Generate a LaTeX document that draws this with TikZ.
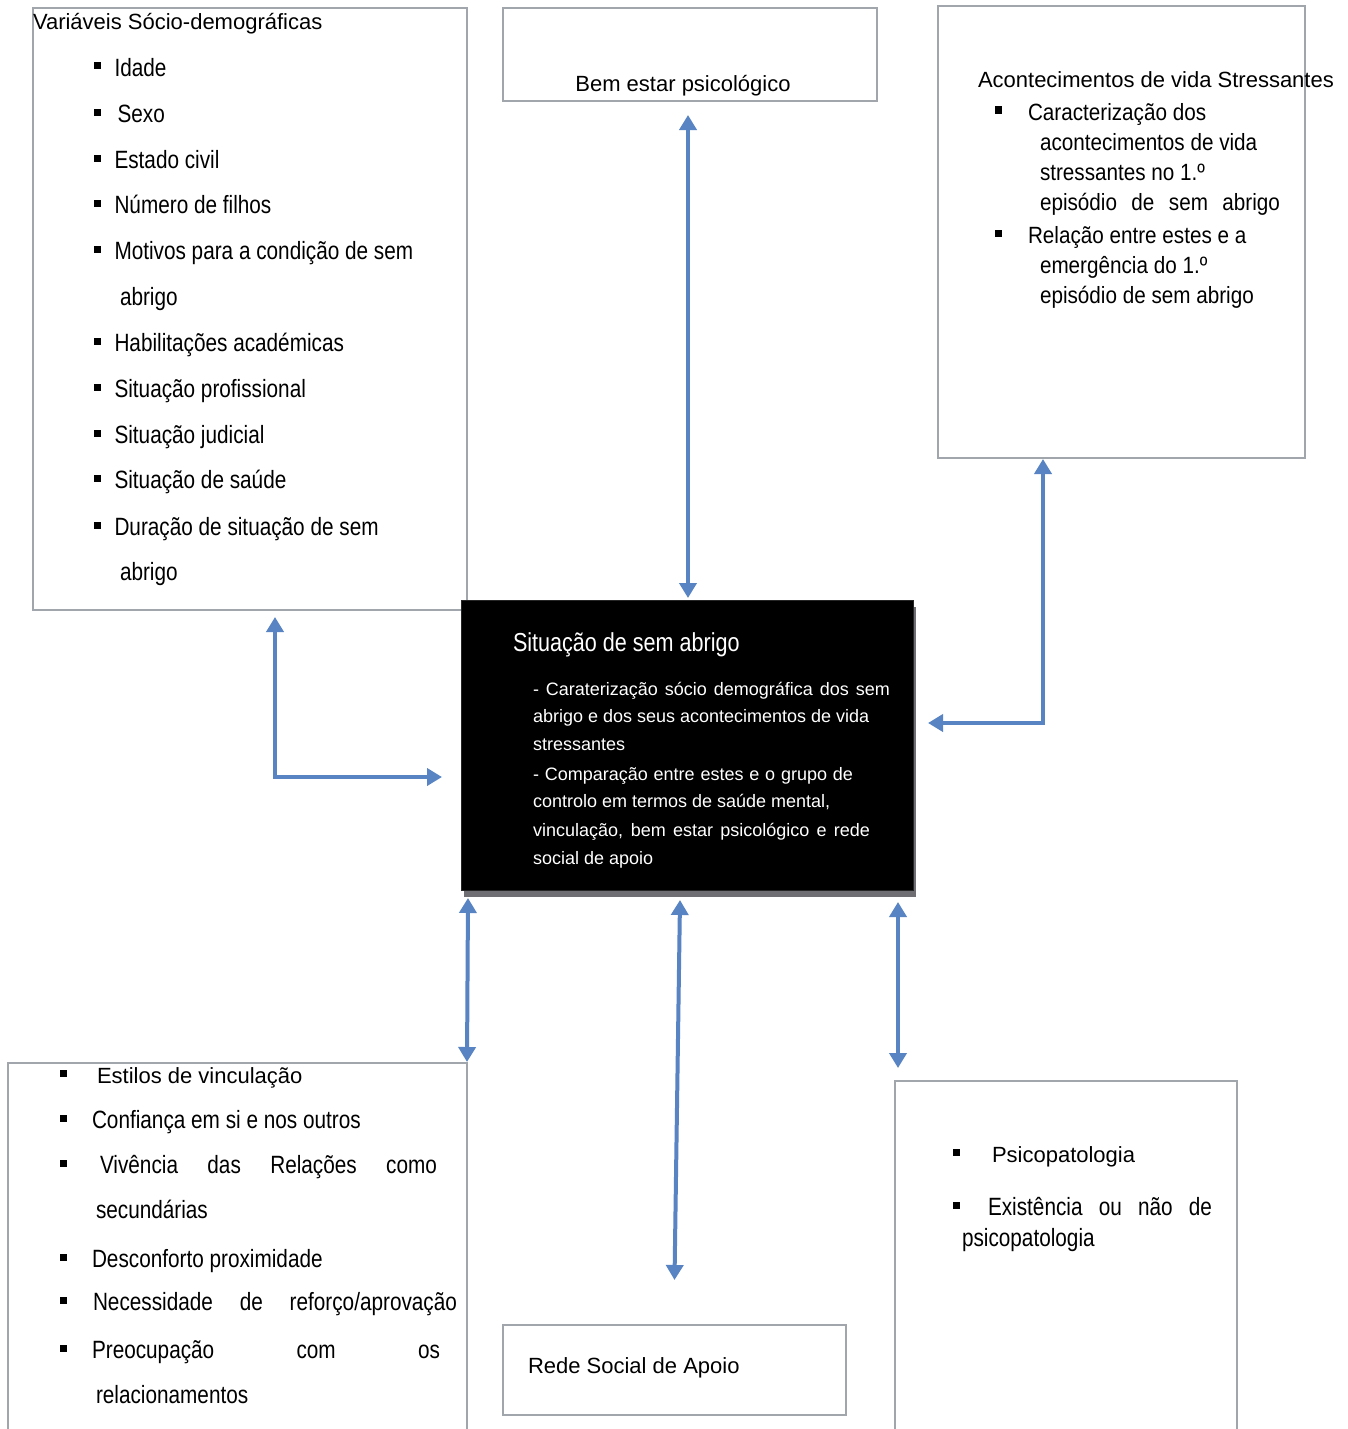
\documentclass[tikz,border=0pt]{standalone}
\usepackage{fontspec}
\setmainfont{Liberation Sans}
\newfontfamily\nar[FakeStretch=0.83]{Liberation Sans}
\newfontfamily\med[FakeStretch=0.88]{Liberation Sans}
\usetikzlibrary{arrows.meta,calc,shadows}
\definecolor{linkblue}{RGB}{88,132,196}
\definecolor{framegray}{RGB}{160,166,172}
\definecolor{shadegray}{RGB}{110,110,115}
% small square bullet, centred about 10pt above the baseline
\newcommand\sq{\rule[6.5pt]{7pt}{7pt}}
\newcommand\fnorm{\fontsize{22pt}{26pt}\selectfont}
\newcommand\fnar{\nar\fontsize{25pt}{29pt}\selectfont}
\newcommand\fmed{\med\fontsize{23.5pt}{27pt}\selectfont}
\newcommand\fsmall{\fontsize{18pt}{22pt}\selectfont}

\begin{document}
\begin{tikzpicture}[x=1pt,y=-1pt,
  box/.style={draw=framegray, line width=2.5pt, fill=white, inner sep=0pt,
              outer sep=0pt, anchor=north west},
  darkbox/.style={fill=black, draw=black!85, line width=1pt, inner sep=0pt,
              outer sep=0pt, anchor=north west,
              drop shadow={shadow xshift=3pt, shadow yshift=-7pt,
                           fill=shadegray, opacity=1}},
  lbl/.style={inner sep=0pt, outer sep=0pt, anchor=base west, text=black},
  wlbl/.style={lbl, text=white},
  link/.style={draw=linkblue, line width=4pt,
               {Triangle[width=17pt,length=15pt]}-{Triangle[width=17pt,length=15pt]}}
]
\useasboundingbox[fill=white] (0,0) rectangle (1347,1429);
\clip (0,0) rectangle (1347,1429);

% ---- frames ----
\node[box, minimum width=434, minimum height=602] (soc)  at (33,8) {};
\node[box, minimum width=374, minimum height=93]  (bem)  at (503,8) {};
\node[box, minimum width=367, minimum height=452] (acon) at (938,6) {};
\node[darkbox, minimum width=452, minimum height=290] (sit) at (461,600) {};
\node[box, minimum width=459, minimum height=420] (vinc) at (8,1063) {};
\node[box, minimum width=343, minimum height=90]  (rede) at (503,1325) {};
\node[box, minimum width=342, minimum height=400] (psi)  at (895,1081) {};

% ---- socio-demographic variables ----
\node[lbl, font=\fnorm] (socT) at (33,30) {Variáveis Sócio-demográficas};
\node[lbl, font=\fnar] (s1)  at (93.5,76)  {\sq\hspace{14pt}Idade};
\node[lbl, font=\fnar] (s2)  at (93.5,122) {\sq\hspace{17pt}Sexo};
\node[lbl, font=\fnar] (s3)  at (93.5,168) {\sq\hspace{14pt}Estado civil};
\node[lbl, font=\fnar] (s4)  at (93.5,213) {\sq\hspace{14pt}Número de filhos};
\node[lbl, font=\fnar] (s5)  at (93.5,259) {\sq\hspace{14pt}Motivos para a condição de sem};
\node[lbl, font=\fnar] (s5b) at (120,305)  {abrigo};
\node[lbl, font=\fnar] (s6)  at (93.5,351) {\sq\hspace{14pt}Habilitações académicas};
\node[lbl, font=\fnar] (s7)  at (93.5,397) {\sq\hspace{14pt}Situação profissional};
\node[lbl, font=\fnar] (s8)  at (93.5,443) {\sq\hspace{14pt}Situação judicial};
\node[lbl, font=\fnar] (s9)  at (93.5,488) {\sq\hspace{14pt}Situação de saúde};
\node[lbl, font=\fnar] (s10) at (93.5,535) {\sq\hspace{14pt}Duração de situação de sem};
\node[lbl, font=\fnar] (s10b) at (120,580) {abrigo};

% ---- psychological well-being ----
\node[lbl, anchor=base, font=\fnorm] (bemT) at (683,91) {Bem estar psicológico};

% ---- stressful life events ----
\node[lbl, font=\fnorm] (aconT) at (978,88) {Acontecimentos de vida Stressantes};
\node[lbl, font=\fmed] (a1)  at (994.5,120) {\sq\hspace{26.5pt}Caracterização dos};
\node[lbl, font=\fmed] (a1b) at (1040,150)  {acontecimentos de vida};
\node[lbl, font=\fmed] (a1c) at (1040,180)  {stressantes no 1.º};
\node[lbl, font=\fmed] (a1d) at (1040,210)  {\makebox[240pt][s]{episódio de sem abrigo}};
\node[lbl, font=\fmed] (a2)  at (994.5,243) {\sq\hspace{26.5pt}Relação entre estes e a};
\node[lbl, font=\fmed] (a2b) at (1040,273)  {emergência do 1.º};
\node[lbl, font=\fmed] (a2c) at (1040,303)  {episódio de sem abrigo};

% ---- homelessness (central box) ----
\node[wlbl, font={\nar\fontsize{26pt}{30pt}\selectfont}] (sitT) at (513,651) {Situação de sem abrigo};
\node[wlbl, font=\fsmall] (c1) at (533,695) {\makebox[357pt][s]{- Caraterização sócio demográfica dos sem}};
\node[wlbl, font=\fsmall] (c2) at (533,722) {abrigo e dos seus acontecimentos de vida};
\node[wlbl, font=\fsmall] (c3) at (533,750) {stressantes};
\node[wlbl, font=\fsmall] (c4) at (533,780) {\makebox[320pt][s]{- Comparação entre estes e o grupo de}};
\node[wlbl, font=\fsmall] (c5) at (533,807) {controlo em termos de saúde mental,};
\node[wlbl, font=\fsmall] (c6) at (533,836) {\makebox[337pt][s]{vinculação, bem estar psicológico e rede}};
\node[wlbl, font=\fsmall] (c7) at (533,864) {social de apoio};

% ---- attachment ----
\node[lbl, font=\fnorm] (v1)  at (59.5,1083) {\sq\hspace{30.5pt}Estilos de vinculação};
\node[lbl, font=\fnar]  (v2)  at (59.5,1128) {\sq\hspace{25.5pt}Confiança em si e nos outros};
\node[lbl, font=\fnar]  (v3)  at (59.5,1173) {\sq\hspace{33.5pt}\makebox[337pt][s]{Vivência das Relações como}};
\node[lbl, font=\fnar]  (v3b) at (96,1218)   {secundárias};
\node[lbl, font=\fnar]  (v4)  at (59.5,1267) {\sq\hspace{25.5pt}Desconforto proximidade};
\node[lbl, font=\fnar]  (v5)  at (59.5,1310) {\sq\hspace{26.5pt}\makebox[364pt][s]{Necessidade de reforço/aprovação}};
\node[lbl, font=\fnar]  (v6)  at (59.5,1358) {\sq\hspace{25.5pt}\makebox[348pt][s]{Preocupação com os}};
\node[lbl, font=\fnar]  (v6b) at (96,1403)   {relacionamentos};

% ---- social support network ----
\node[lbl, font=\fnorm] (redeT) at (528,1373) {Rede Social de Apoio};

% ---- psychopathology ----
\node[lbl, font=\fnorm] (p1)  at (952.5,1162) {\sq\hspace{32.5pt}Psicopatologia};
\node[lbl, font=\fnar]  (p2)  at (952.5,1215) {\sq\hspace{28.5pt}\makebox[224pt][s]{Existência ou não de}};
\node[lbl, font=\fnar]  (p2b) at (962,1246)   {psicopatologia};

% ---- connectors ----
\draw[link] ($(bem.south)+(-2,14)$) -- ($(sit.north)+(1,-2)$);
\draw[link] ($(soc.south west)+(242,7)$) |- ($(sit.west)+(-19,32)$);
\draw[link] ($(acon.south west)+(105,1)$) |- ($(sit.east)+(15,-22)$);
\draw[link] ($(sit.south west)+(7,8)$) -- ($(vinc.north east)+(0,-1)$);
\draw[link] ($(sit.south)+(-7,10)$) -- ($(rede.north)+(0,-45)$);
\draw[link] ($(sit.south east)+(-15,12)$) -- ($(psi.north west)+(3,-13)$);
\end{tikzpicture}
\end{document}
